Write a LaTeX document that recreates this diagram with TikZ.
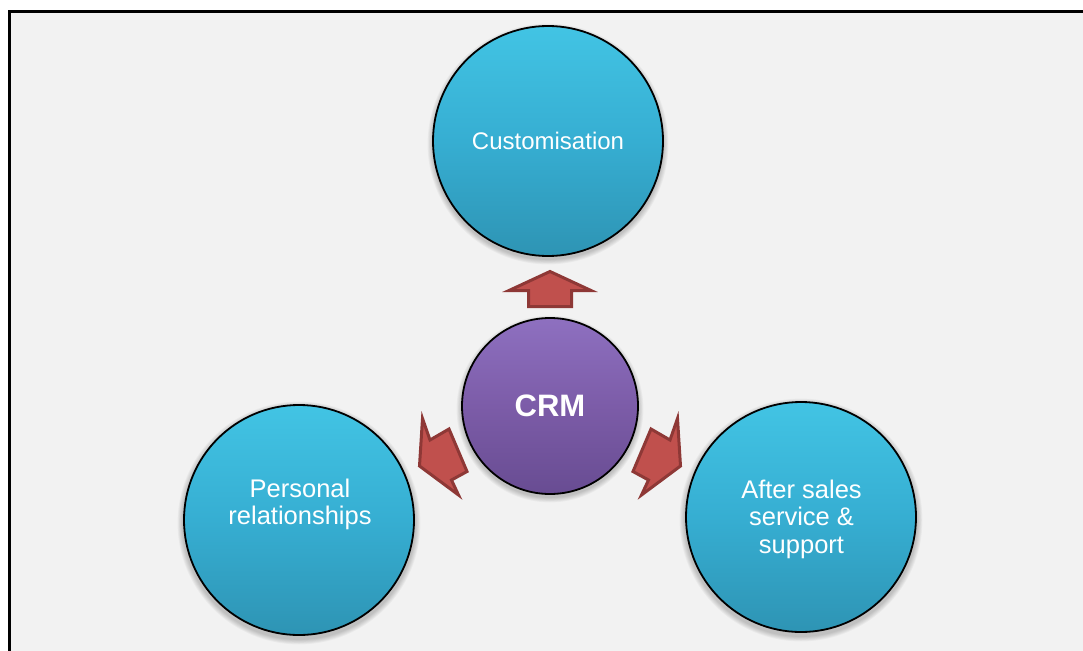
\documentclass[tikz,border=0pt]{standalone}
\usepackage{fontspec}
\setmainfont{Liberation Sans}
\definecolor{bgray}{RGB}{242,242,242}
\definecolor{bluetop}{RGB}{66,196,228}
\definecolor{bluemid}{RGB}{54,174,210}
\definecolor{bluebot}{RGB}{46,148,180}
\definecolor{purtop}{RGB}{142,112,192}
\definecolor{purmid}{RGB}{124,92,168}
\definecolor{purbot}{RGB}{104,76,146}
\definecolor{arrfill}{RGB}{192,80,77}
\definecolor{arrline}{RGB}{142,56,54}
\tikzset{
  bubble/.style={circle, draw=black, line width=1.8pt, minimum size=230pt, inner sep=0pt,
    top color=bluetop, bottom color=bluebot, middle color=bluemid},
  hub/.style={circle, draw=black, line width=1.8pt, minimum size=176pt, inner sep=0pt,
    top color=purtop, bottom color=purbot, middle color=purmid},
  txt/.style={text=white, font=\fontsize{24}{29}\selectfont, align=center, inner sep=0pt},
  bigtxt/.style={text=white, font=\fontsize{25.5}{27.5}\selectfont, align=center, inner sep=0pt},
  hubtxt/.style={text=white, font=\fontsize{31}{36}\selectfont\bfseries, inner sep=0pt},
  fatarrow/.style={fill=arrfill, draw=arrline, line width=3pt, line join=miter},
}
\begin{document}
\begin{tikzpicture}[x=1pt,y=-1pt]
\useasboundingbox (0,0) rectangle (1083,650);
\clip (0,0) rectangle (1083,650);
\fill[white] (0,0) rectangle (1083,650);
\filldraw[fill=bgray, draw=black, line width=3.5pt] (9.7,11.3) rectangle (1110,680);
% soft shadows
\foreach \cx/\cy/\r in {548/141/115, 299/520/116, 801/517/116, 550/406/88}{
  \foreach \k in {1,...,6}{
    \fill[black, opacity=0.035] (\cx,\cy+3) circle (\r+\k*0.9);
  }
}
% circles
\node[bubble] (cust) at (548,141) {};
\node[bubble] (pers) at (299,520) {};
\node[bubble] (after) at (801,517) {};
\node[hub] (crm) at (550,406) {};
% labels
\node[txt] (custtxt) at (cust.center) {Customisation};
\node[bigtxt, anchor=center] (perstxt) at (300,504.5) {Personal\\relationships};
\node[bigtxt, anchor=center] (aftertxt) at (801.5,519) {After sales\\service \&\\support};
\node[hubtxt] (crmtxt) at (crm.center) {CRM};
% arrows
\draw[fatarrow] (550,271.5) -- (591,290.5) -- (571.5,290.5) -- (571.5,306.5) -- (528.5,306.5) -- (528.5,290.5) -- (509,290.5) -- cycle;
\draw[fatarrow] (422.5,418.5) -- (430,440) -- (449,429) -- (467,471.5) -- (451.5,480) -- (458.5,495) -- (419.5,466) -- cycle;
\draw[fatarrow] (677.5,418.5) -- (670,440) -- (651,429) -- (633,471.5) -- (648.5,480) -- (641.5,495) -- (680.5,466) -- cycle;
\end{tikzpicture}
\end{document}
